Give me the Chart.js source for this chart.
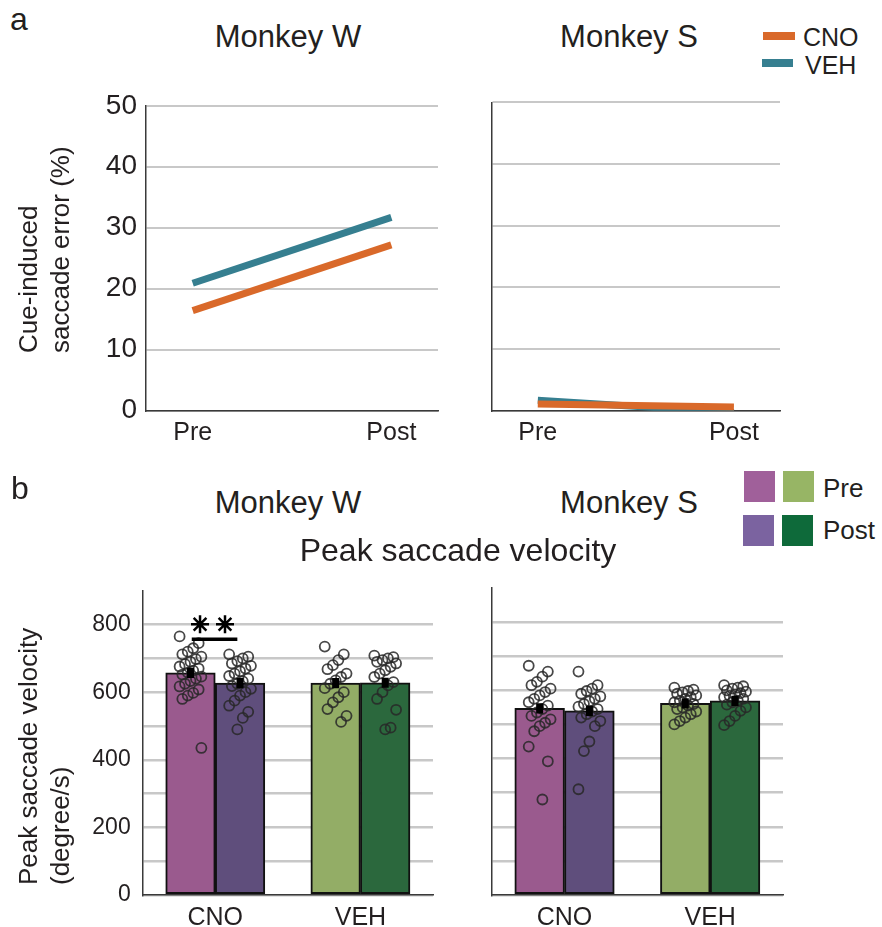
<!DOCTYPE html>
<html><head><meta charset="utf-8">
<script src="https://cdn.jsdelivr.net/npm/chart.js@4"></script>
<style>
body{margin:0;background:#fff;width:882px;height:927px;position:relative;overflow:hidden;font-family:"Liberation Sans",Arial,sans-serif;color:#231f20}
.t{position:absolute;white-space:nowrap;line-height:1;z-index:2}
.c{text-align:center;width:400px}
.rot{position:absolute;white-space:pre;transform:rotate(-90deg);transform-origin:0 0;font-size:26px;line-height:32px;z-index:2}
.sw{position:absolute;z-index:2}
canvas{position:absolute;z-index:1}
</style></head><body>

<div class="t" style="left:10px;top:3px;font-size:32px">a</div>
<div class="t c" style="left:88px;top:20.5px;font-size:31px">Monkey W</div>
<div class="t c" style="left:429px;top:20.5px;font-size:31px">Monkey S</div>
<div class="sw" style="left:763px;top:32px;width:32px;height:8px;background:#d9692a"></div>
<div class="t" style="left:803px;top:25px;font-size:25px">CNO</div>
<div class="sw" style="left:762px;top:59px;width:31px;height:8px;background:#367f90"></div>
<div class="t" style="left:805px;top:53px;font-size:25px">VEH</div>
<div class="rot" style="left:12px;top:353px">Cue-induced
saccade error (%)</div>

<div class="t" style="left:11px;top:472px;font-size:32px">b</div>
<div class="t c" style="left:88px;top:487px;font-size:31px">Monkey W</div>
<div class="t c" style="left:429px;top:487px;font-size:31px">Monkey S</div>
<div class="t c" style="left:258px;top:534px;font-size:32px">Peak saccade velocity</div>
<div class="sw" style="left:744px;top:471px;width:31px;height:31px;background:#a0609a"></div>
<div class="sw" style="left:783px;top:471px;width:31px;height:31px;background:#97b565"></div>
<div class="t" style="left:823px;top:474.5px;font-size:26px">Pre</div>
<div class="sw" style="left:743px;top:515px;width:31px;height:31px;background:#7b63a0"></div>
<div class="sw" style="left:782px;top:515px;width:31px;height:31px;background:#0e6a3a"></div>
<div class="t" style="left:823px;top:517px;font-size:26px">Post</div>
<div class="rot" style="left:12px;top:885px">Peak saccade velocity
(degree/s)</div>

<canvas id="ta" width="385" height="370" style="left:60px;top:80px"></canvas>
<canvas id="tb" width="320" height="370" style="left:470px;top:80px"></canvas>
<canvas id="ba" width="385" height="362" style="left:60px;top:565px"></canvas>
<canvas id="bb" width="320" height="362" style="left:470px;top:565px"></canvas>

<script>
// ---------- data ----------
const phases = ['Pre', 'Post'];
const errW_CNO = [16.4, 27.2];
const errW_VEH = [20.9, 31.7];
const errS_CNO = [1.1, 0.6];
const errS_VEH = [1.7, -0.3];

const drugs = ['CNO', 'VEH'];
const velW_preMean = [657, 627];
const velW_postMean = [627, 628];
const velS_preMean = [547, 562];
const velS_postMean = [540, 569];
const velSem = 15;

const velW_CNO_pre = [765,745,730,720,712,705,698,690,683,676,670,664,658,652,646,640,633,625,617,608,598,590,580,435];
const velW_CNO_post = [712,705,700,692,685,678,670,662,655,648,640,632,625,618,610,600,590,575,560,542,524,490];
const velW_VEH_pre = [735,712,695,680,668,655,645,635,625,612,600,585,570,550,530,512];
const velW_VEH_post = [708,704,700,695,690,685,675,665,655,645,630,620,600,580,548,495,490];
const velS_CNO_pre = [672,655,640,625,615,605,595,585,575,565,555,545,535,525,515,505,495,480,435,392,280];
const velS_CNO_post = [655,615,605,598,590,582,575,568,560,552,545,538,530,520,510,495,450,422,310];
const velS_VEH_pre = [608,602,598,594,590,585,580,575,570,565,560,555,550,545,538,530,520,510,500];
const velS_VEH_post = [615,612,608,605,600,596,592,588,584,580,575,570,565,558,550,540,525,510,498];

// "**" significance mark (x in group units, y in deg/s)
const sigBracketX = [0.338, 0.652];
const sigBracketY = 757;
const sigStarX = [0.395, 0.567];
const sigStarY = 801;

// ---------- styles ----------
const TXT = '#231f20';
const GRID = '#c8c8c8';
const AXIS = '#3a3a3a';
const FONT = '"Liberation Sans", Arial, sans-serif';
const C_CNO = '#d9692a', C_VEH = '#367f90';
const preColors = ['#9a5a8e', '#93ad66'];
const postColors = ['#5f4e7c', '#2b683d'];

function layoutFor(box, area) {
  return {
    padTop: area.top - box.top,
    padRight: box.left + box.width - area.right,
    yW: area.left - box.left,
    xH: box.top + box.height - area.bottom
  };
}

function topChart(id, box, area, cno, veh, showY) {
  const L = layoutFor(box, area);
  const mk = (arr) => arr.map((v, i) => ({x: i, y: v}));
  new Chart(document.getElementById(id), {
    type: 'line',
    data: {
      datasets: [
        {data: mk(cno), borderColor: C_CNO, borderWidth: 7, pointRadius: 0, borderCapStyle: 'butt'},
        {data: mk(veh), borderColor: C_VEH, borderWidth: 7, pointRadius: 0, borderCapStyle: 'butt'}
      ]
    },
    options: {
      responsive: false, animation: false,
      layout: {padding: {top: L.padTop, right: L.padRight, left: 0, bottom: 0}},
      plugins: {legend: {display: false}, tooltip: {enabled: false}},
      scales: {
        x: {
          type: 'linear', min: -0.235, max: 1.235, offset: false,
          afterBuildTicks: (s) => { s.ticks = phases.map((_, i) => ({value: i})); },
          ticks: {callback: (v) => phases[v], color: TXT, font: {family: FONT, size: 25}, padding: -1, maxRotation: 0},
          grid: {display: false},
          border: {color: AXIS, width: 1.5},
          afterFit: (s) => { s.height = L.xH; }
        },
        y: {
          min: 0, max: 50,
          ticks: {stepSize: 10, display: showY, color: TXT, font: {family: FONT, size: 28}, padding: 9},
          grid: {color: GRID, lineWidth: 2, drawTicks: false},
          border: {color: AXIS, width: 1.5},
          afterFit: (s) => { s.width = L.yW; }
        }
      }
    }
  });
}

function jitter(i) { return ((((i * 7) % 9) / 8) - 0.5) * 0.15; }

function bottomChart(id, box, area, preMean, postMean, pts, showY, sig) {
  const L = layoutFor(box, area);
  const half = 0.683 / 4;  // bar centre offset from group centre (group units)
  const barData = (means, off) => means.map((m, i) => ({x: i + 0.5 + off, y: m}));
  const datasets = [
    {type: 'bar', data: barData(preMean, -half), backgroundColor: preColors, borderColor: '#111', borderWidth: 2, borderSkipped: false, order: 10},
    {type: 'bar', data: barData(postMean, half), backgroundColor: postColors, borderColor: '#111', borderWidth: 2, borderSkipped: false, order: 10}
  ];
  pts.forEach((g) => {
    const cx = g.cat + 0.5 + (g.post ? half : -half);
    datasets.push({
      type: 'scatter', order: 2,
      data: g.vals.map((v, i) => ({x: cx + jitter(i), y: v})),
      pointRadius: 5, pointBorderWidth: 1.8, pointBorderColor: 'rgba(40,40,40,0.85)',
      pointBackgroundColor: 'rgba(0,0,0,0)', showLine: false
    });
  });
  [[preMean, -half], [postMean, half]].forEach(([means, off]) => {
    means.forEach((m, c) => {
      datasets.push({
        type: 'line', order: 1,
        data: [{x: c + 0.5 + off, y: m - velSem}, {x: c + 0.5 + off, y: m + velSem}],
        borderColor: '#000', borderWidth: 7, pointRadius: 0, borderCapStyle: 'butt'
      });
    });
  });
  if (sig) {
    datasets.push({
      type: 'line', order: 0,
      data: sigBracketX.map((x) => ({x, y: sigBracketY})),
      borderColor: '#000', borderWidth: 3.5, pointRadius: 0, borderCapStyle: 'butt'
    });
    datasets.push({
      type: 'scatter', order: 0,
      data: sigStarX.map((x) => ({x, y: sigStarY})),
      pointStyle: 'star', pointRadius: 9, pointBorderWidth: 2.5, pointBorderColor: '#000', pointBackgroundColor: '#000'
    });
  }
  new Chart(document.getElementById(id), {
    type: 'bar',
    data: {datasets},
    options: {
      responsive: false, animation: false,
      datasets: {bar: {grouped: false, categoryPercentage: 1, barPercentage: 1}},
      layout: {padding: {top: L.padTop, right: L.padRight, left: 0, bottom: 0}},
      plugins: {legend: {display: false}, tooltip: {enabled: false}},
      scales: {
        x: {
          type: 'linear', min: 0, max: 2, offset: false,
          afterBuildTicks: (s) => { s.ticks = drugs.map((_, i) => ({value: i + 0.5})); },
          ticks: {callback: (v) => drugs[Math.round(v - 0.5)], color: TXT, font: {family: FONT, size: 25}, padding: 0, maxRotation: 0},
          grid: {display: false, offset: false},
          border: {color: AXIS, width: 1.5},
          afterFit: (s) => { s.height = L.xH; }
        },
        y: {
          min: 0, max: 900,
          ticks: {stepSize: 100, autoSkip: false, display: showY, color: TXT, font: {family: FONT, size: 23}, padding: 12,
                  callback: (v) => (v % 200 === 0 && v < 900) ? String(v) : ''},
          grid: {color: (ctx) => (ctx.tick && ctx.tick.value >= 900) ? 'rgba(0,0,0,0)' : GRID, lineWidth: 2.5, drawTicks: false},
          border: {color: AXIS, width: 1.5},
          afterFit: (s) => { s.width = L.yW; }
        }
      }
    }
  });
}

topChart('ta', {left: 60, top: 80, width: 385, height: 370}, {left: 146, top: 102.3, right: 438, bottom: 410.7}, errW_CNO, errW_VEH, true);
topChart('tb', {left: 470, top: 80, width: 320, height: 370}, {left: 491.7, top: 102.3, right: 780, bottom: 410.7}, errS_CNO, errS_VEH, false);

bottomChart('ba', {left: 60, top: 565, width: 385, height: 362}, {left: 142.7, top: 588, right: 433, bottom: 895},
  velW_preMean, velW_postMean,
  [{cat: 0, post: false, vals: velW_CNO_pre}, {cat: 0, post: true, vals: velW_CNO_post},
   {cat: 1, post: false, vals: velW_VEH_pre}, {cat: 1, post: true, vals: velW_VEH_post}], true, true);
bottomChart('bb', {left: 470, top: 565, width: 320, height: 362}, {left: 491.7, top: 588, right: 783, bottom: 895},
  velS_preMean, velS_postMean,
  [{cat: 0, post: false, vals: velS_CNO_pre}, {cat: 0, post: true, vals: velS_CNO_post},
   {cat: 1, post: false, vals: velS_VEH_pre}, {cat: 1, post: true, vals: velS_VEH_post}], false, false);
</script>
</body></html>
